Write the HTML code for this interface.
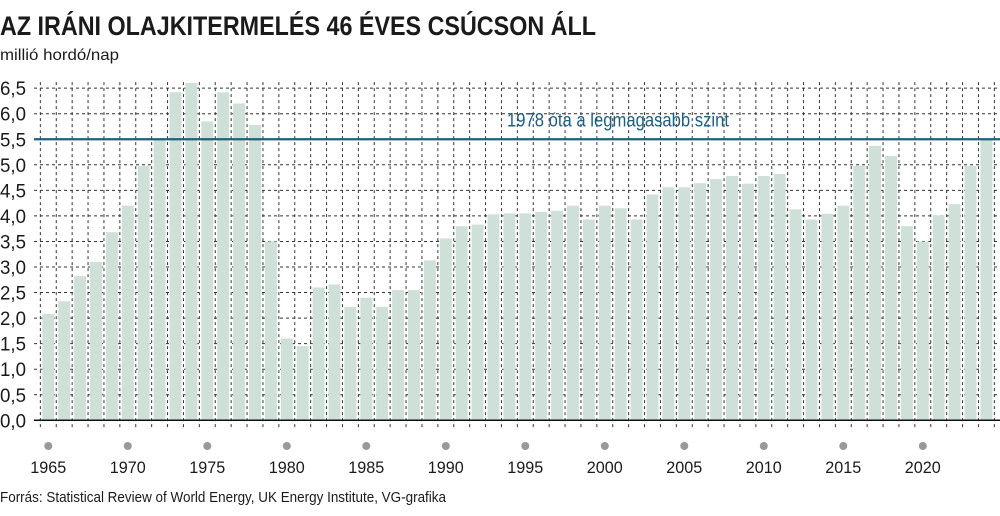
<!DOCTYPE html>
<html><head><meta charset="utf-8"><style>
body{margin:0;background:#fff;}
svg{display:block;font-family:"Liberation Sans",sans-serif;}
</style></head><body>
<svg width="1000" height="516" viewBox="0 0 1000 516">
<text x="0" y="35" font-size="27" font-weight="bold" fill="#1a1a1a" textLength="596" lengthAdjust="spacingAndGlyphs">AZ IRÁNI OLAJKITERMELÉS 46 ÉVES CSÚCSON ÁLL</text>
<text x="0" y="60" font-size="16" fill="#1a1a1a" textLength="119" lengthAdjust="spacingAndGlyphs">millió hordó/nap</text>
<g id="grid"></g><g id="bars"></g><g id="axis"></g>
<text x="0" y="502" font-size="15" fill="#1a1a1a" textLength="446" lengthAdjust="spacingAndGlyphs">Forrás: Statistical Review of World Energy, UK Energy Institute, VG-grafika</text>
</svg>
<script>
const years=[];for(let y=1965;y<=2024;y++)years.push(y);
const values=[2.08,2.33,2.82,3.1,3.68,4.2,4.98,5.5,6.42,6.6,5.85,6.42,6.2,5.78,3.5,1.6,1.45,2.6,2.66,2.22,2.4,2.22,2.55,2.55,3.13,3.56,3.8,3.83,4.03,4.05,4.05,4.08,4.1,4.2,3.93,4.2,4.15,3.93,4.42,4.56,4.56,4.64,4.72,4.78,4.63,4.78,4.82,4.13,3.93,4.04,4.2,4.98,5.37,5.17,3.8,3.5,4.01,4.23,4.98,5.5];
const yTicks=[0,0.5,1,1.5,2,2.5,3,3.5,4,4.5,5,5.5,6,6.5];
const xLabelYears=[1965,1970,1975,1980,1985,1990,1995,2000,2005,2010,2015,2020];
const refValue=5.5;
const refLabel="1978 óta a legmagasabb szint";
const NS="http://www.w3.org/2000/svg";
const y0=420.3,pu=51.1,x0=48.3,step=15.9,L=34,R=1000;
const ys=v=>y0-v*pu, xs=yr=>x0+(yr-1965)*step;
function mk(t,a,p){const e=document.createElementNS(NS,t);for(const k in a)e.setAttribute(k,a[k]);p.appendChild(e);return e;}
const grid=document.getElementById('grid'),bars=document.getElementById('bars'),ax=document.getElementById('axis');
yTicks.forEach(v=>{
 if(v>0){const l=mk('line',{x1:L,x2:R,y1:ys(v),y2:ys(v),stroke:'#333','stroke-width':1,'stroke-dasharray':'3,3'},grid);
 
 }
 const t=mk('text',{x:0,y:ys(v)+7,'font-size':19,fill:'#1a1a1a',textLength:26,lengthAdjust:'spacingAndGlyphs'},ax);
 t.textContent=v.toFixed(1).replace('.',',');
 
 
});
for(let i=0;i<=years.length;i++){
 const x=xs(1965+i)-step/2;
 const l=mk('line',{x1:x,x2:x,y1:ys(6.5)-6,y2:y0+8,stroke:'#333','stroke-width':1,'stroke-dasharray':'3,3'},grid);
 
 
}
years.forEach((yr,i)=>{
 const v=values[i];
 const r=mk('rect',{x:xs(yr)-6,y:ys(v),width:12,height:y0-ys(v),fill:'#cfe0d9'},bars);
 
 
});
const ref=mk('line',{x1:L,x2:R,y1:ys(refValue),y2:ys(refValue),stroke:'#1d5f7f','stroke-width':2.2},ax);


const rl=mk('text',{x:507,y:ys(refValue)-13,'font-size':19,fill:'#1d5f7f',textLength:222,lengthAdjust:'spacingAndGlyphs'},ax);
rl.textContent=refLabel;


const base=mk('line',{x1:L,x2:R,y1:y0,y2:y0,stroke:'#111','stroke-width':1.5},ax);


xLabelYears.forEach(yr=>{
 const c=mk('circle',{cx:xs(yr),cy:446,r:4,fill:'#999'},ax);
 
 
 const t=mk('text',{x:xs(yr),y:473,'font-size':17,fill:'#1a1a1a','text-anchor':'middle',textLength:36,lengthAdjust:'spacingAndGlyphs'},ax);
 t.textContent=yr;
 
 
});
</script>
</body></html>
